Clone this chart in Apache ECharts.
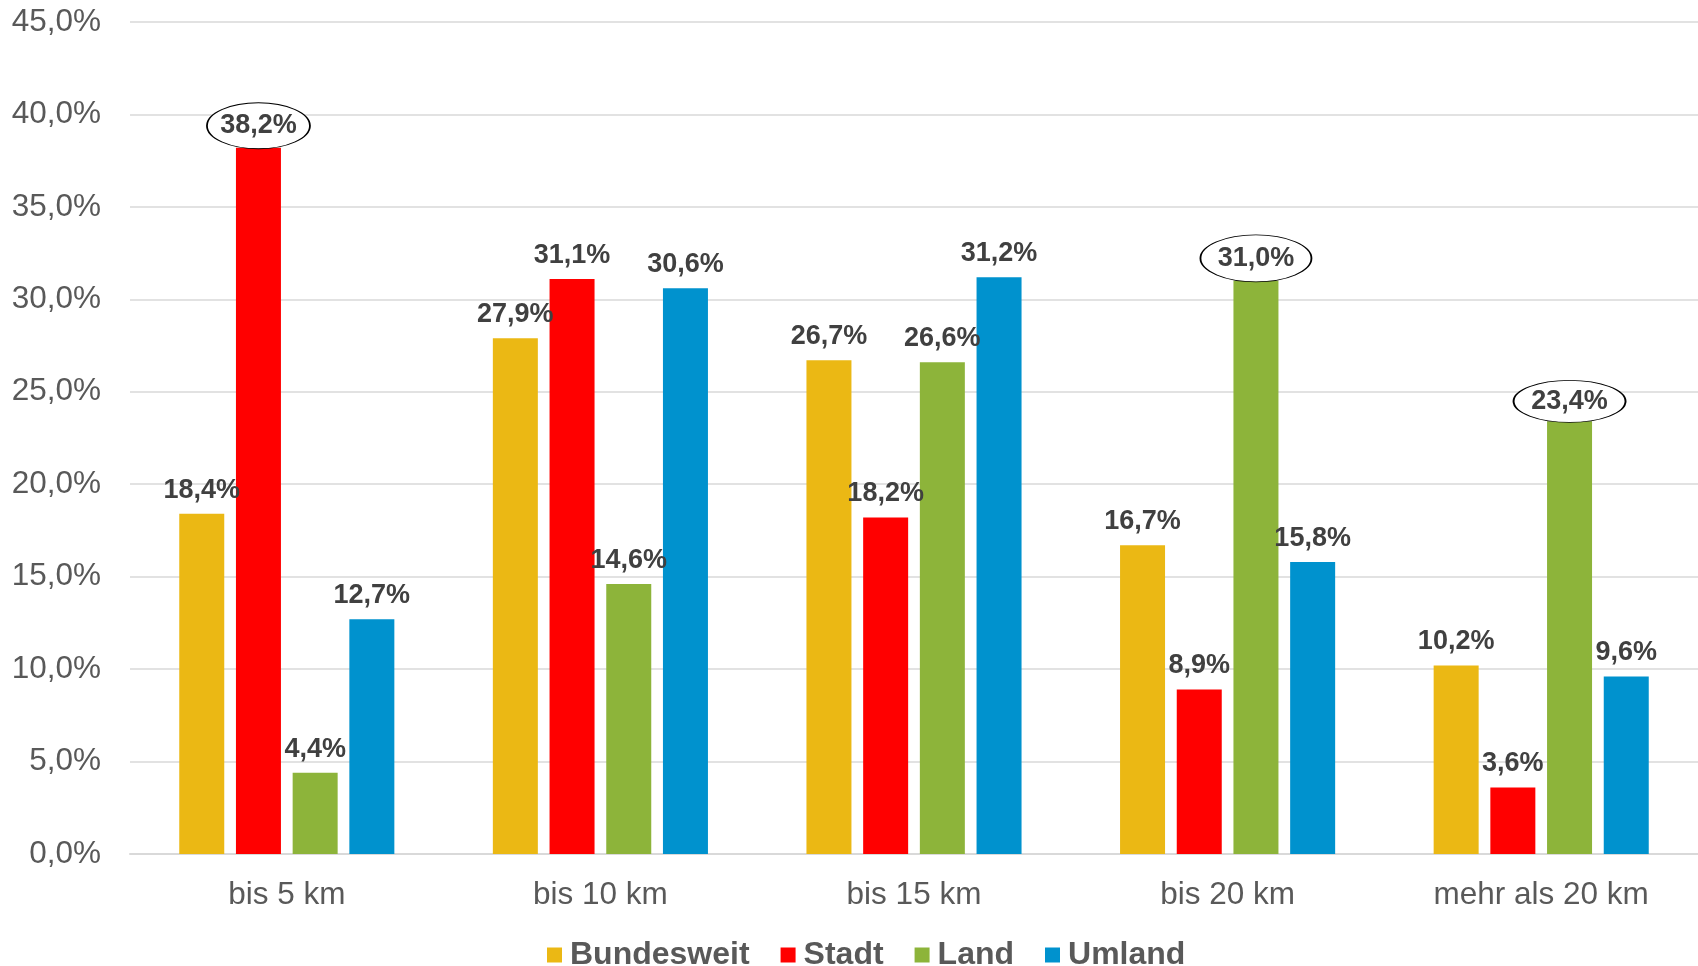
<!DOCTYPE html>
<html>
<head>
<meta charset="utf-8">
<script src="https://cdn.jsdelivr.net/npm/echarts@6/dist/echarts.min.js"></script>
<style>html,body{margin:0;padding:0;background:#fff}#c{width:1698px;height:966px}</style>
</head>
<body>
<div id="c"></div>
<script>
const categories = ['bis 5 km', 'bis 10 km', 'bis 15 km', 'bis 20 km', 'mehr als 20 km'];
const seriesNames = ['Bundesweit', 'Stadt', 'Land', 'Umland'];
const bundesweit = [18.4, 27.9, 26.7, 16.7, 10.2];
const stadt = [38.2, 31.1, 18.2, 8.9, 3.6];
const land = [4.4, 14.6, 26.6, 31.0, 23.4];
const umland = [12.7, 30.6, 31.2, 15.8, 9.6];
const yTicks = [0, 5, 10, 15, 20, 25, 30, 35, 40, 45];
// which bars get an elliptical highlight (category indices per series)
const highlighted = { Stadt: [0], Land: [3, 4] };
// ellipse sizes (style only), keyed like highlighted
const ellipseSizes = { Stadt: [[103, 46]], Land: [[111, 47], [112, 42]] };

const colors = ['#EBB814', '#FF0000', '#8DB43A', '#0092CE'];
const values = [bundesweit, stadt, land, umland];
const fmt = v => v.toFixed(1).replace('.', ',') + '%';
const FONT = 'Liberation Sans, Arial, sans-serif';

const series = seriesNames.map((name, si) => {
  const hl = highlighted[name] || [];
  const sizes = ellipseSizes[name] || [];
  return {
    name,
    type: 'bar',
    barWidth: 45,
    barGap: '26%',
    itemStyle: { color: colors[si] },
    label: {
      show: true,
      position: 'top',
      distance: 10,
      formatter: p => fmt(p.value),
      fontFamily: FONT,
      fontWeight: 'bold',
      fontSize: 27,
      color: '#404040'
    },
    data: values[si].map((v, i) => hl.includes(i) ? { value: v, label: { show: false } } : v),
    markPoint: hl.length ? {
      symbol: 'circle',
      itemStyle: { color: '#ffffff', borderColor: '#000000', borderWidth: 1.2 },
      label: {
        show: true,
        position: 'inside',
        formatter: p => fmt(p.value),
        fontFamily: FONT,
        fontWeight: 'bold',
        fontSize: 27,
        color: '#404040'
      },
      data: hl.map((i, k) => ({
        coord: [i, values[si][i]],
        value: values[si][i],
        symbolSize: sizes[k],
        symbolOffset: [0, -sizes[k][1] / 2 + 1]
      }))
    } : undefined
  };
});

const chart = echarts.init(document.getElementById('c'));
chart.setOption({
  animation: false,
  backgroundColor: '#ffffff',
  grid: { left: 130, right: 0, top: 22, bottom: 112, containLabel: false },
  legend: {
    data: seriesNames,
    left: 542,
    top: 934,
    itemWidth: 15,
    itemHeight: 15,
    itemGap: 31,
    icon: 'rect',
    textStyle: { fontFamily: FONT, fontWeight: 'bold', fontSize: 32, color: '#595959', padding: [0, 0, 0, 3] }
  },
  xAxis: {
    type: 'category',
    data: categories,
    axisLine: { lineStyle: { color: '#D9D9D9', width: 2 } },
    axisTick: { show: false },
    axisLabel: { fontFamily: FONT, fontSize: 31.5, color: '#595959', margin: 25 }
  },
  yAxis: {
    type: 'value',
    min: yTicks[0],
    max: yTicks[yTicks.length - 1],
    interval: yTicks[1] - yTicks[0],
    axisLine: { show: false },
    axisTick: { show: false },
    splitLine: { lineStyle: { color: '#D9D9D9', width: 1.5 } },
    axisLabel: { fontFamily: FONT, fontSize: 31.5, color: '#595959', margin: 29, formatter: v => fmt(v) }
  },
  series
});
</script>
</body>
</html>
